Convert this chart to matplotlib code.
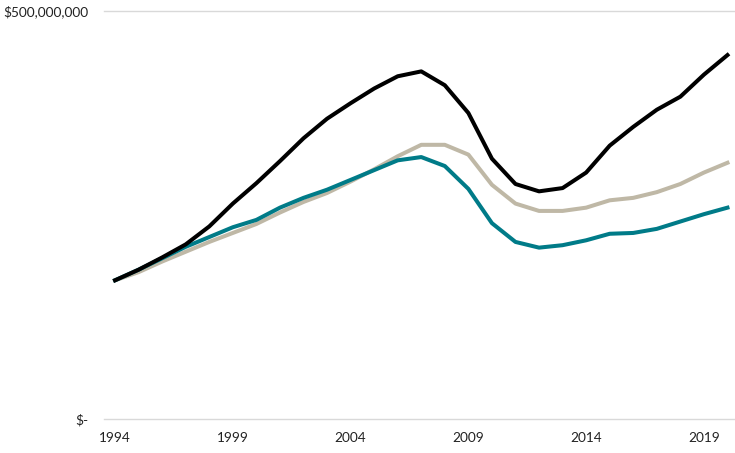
import matplotlib.pyplot as plt
from matplotlib.ticker import FuncFormatter

years = list(range(1994, 2021))

# values in millions of dollars
black = [170, 183, 198, 214, 236, 264, 289, 316, 344, 368, 387, 405, 420, 426,
         409, 375, 319, 288, 279, 283, 302, 335, 358, 379, 395, 422, 446]
beige = [170, 180, 193, 205, 217, 228, 239, 253, 266, 277, 291, 306, 322, 336,
         336, 324, 287, 264, 255, 255, 259, 268, 271, 278, 288, 302, 314]
teal = [170, 183, 197, 211, 223, 235, 244, 259, 271, 281, 293, 305, 317, 321,
        310, 282, 240, 217, 210, 213, 219, 227, 228, 233, 242, 251, 259]

tick_years = [1994, 1999, 2004, 2009, 2014, 2019]
y_ticks = [0, 500_000_000]


def money(v, pos):
    if v == 0:
        return "$-"
    return "${:,.0f}".format(v)


def main():
    plt.rcParams['font.family'] = ['Lato', 'DejaVu Sans']
    fig = plt.figure(figsize=(7.35, 4.53), dpi=100)
    ax = fig.add_axes([104 / 735, 1 - 419 / 453, 1 - 104 / 735, (419 - 11) / 453])

    scale = 1_000_000
    ax.plot(years, [v * scale for v in beige], color='#bfb8a6', lw=2.9,
            solid_joinstyle='round', zorder=3)
    ax.plot(years, [v * scale for v in teal], color='#007b88', lw=2.9,
            solid_joinstyle='round', zorder=4)
    ax.plot(years, [v * scale for v in black], color='#000000', lw=2.9,
            solid_joinstyle='round', zorder=5)

    ax.set_xlim(1993.53, 2020.32)
    ax.set_ylim(0, 500_000_000)
    ax.set_xticks(tick_years)
    ax.set_yticks(y_ticks)
    ax.yaxis.set_major_formatter(FuncFormatter(money))
    ax.tick_params(axis='both', length=0, labelsize=9.8, colors='#222222')
    ax.tick_params(axis='y', pad=11.5)
    ax.tick_params(axis='x', pad=9)
    ax.grid(axis='y', color='#d9d9d9', lw=1)
    for line in ax.get_ygridlines():
        line.set_clip_on(False)
    ax.set_axisbelow(True)
    for s in ax.spines.values():
        s.set_visible(False)

    fig.savefig('out.png', dpi=100)


if __name__ == "__main__":
    main()
